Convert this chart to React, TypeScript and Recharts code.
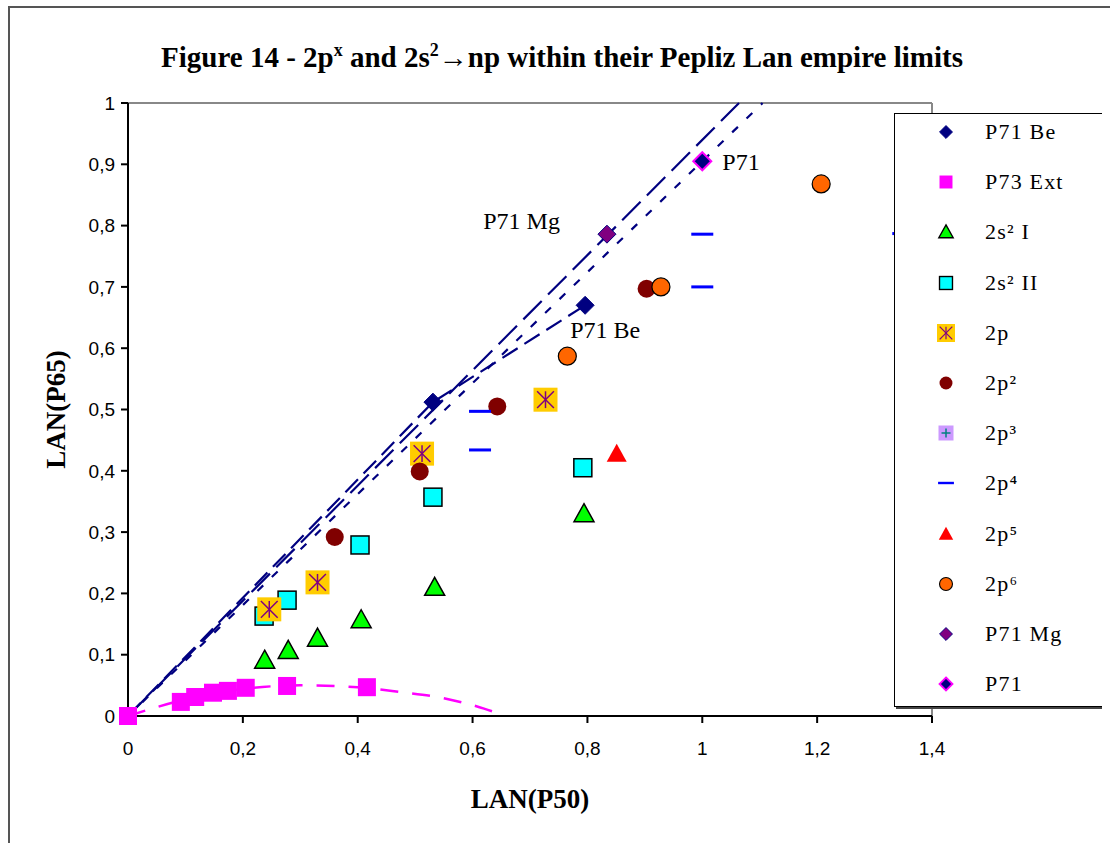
import React from 'react';
import { ScatterChart, Scatter, XAxis, YAxis, Legend, ReferenceLine } from 'recharts';

// axis ticks
const xTicks = [0, 0.2, 0.4, 0.6, 0.8, 1, 1.2, 1.4];
const yTicks = [0, 0.1, 0.2, 0.3, 0.4, 0.5, 0.6, 0.7, 0.8, 0.9, 1];

// series
const p71BeX = [0, 0.531, 0.796];
const p71BeY = [0, 0.512, 0.67];
const p71BeLabels = ['', '', 'P71 Be'];

const p73ExtX = [0, 0.092, 0.117, 0.148, 0.174, 0.205, 0.277, 0.416];
const p73ExtY = [0, 0.023, 0.031, 0.038, 0.041, 0.046, 0.049, 0.047];

const s2IX = [0.238, 0.279, 0.33, 0.406, 0.534, 0.794];
const s2IY = [0.091, 0.107, 0.127, 0.157, 0.21, 0.33];

const s2IIX = [0.237, 0.277, 0.404, 0.531, 0.792];
const s2IIY = [0.163, 0.189, 0.279, 0.357, 0.405];

const p1X = [0.246, 0.33, 0.512, 0.727];
const p1Y = [0.174, 0.218, 0.428, 0.516];

const p2X = [0.36, 0.508, 0.643, 0.903];
const p2Y = [0.292, 0.399, 0.505, 0.697];

const p3X: number[] = [];
const p3Y: number[] = [];

const p4X = [0.613, 0.613, 1.0, 1.0, 1.35];
const p4Y = [0.497, 0.434, 0.786, 0.7, 0.787];

const p5X = [0.851];
const p5Y = [0.428];

const p6X = [0.765, 0.928, 1.207];
const p6Y = [0.587, 0.7, 0.868];

const p71MgX = [0.834];
const p71MgY = [0.786];
const p71MgLabels = ['P71 Mg'];

const p71X = [1.0];
const p71Y = [0.905];
const p71Labels = ['P71'];

// dashed guide lines
const limitAX = [0, 1.064];
const limitAY = [0, 1.0];
const limitBX = [0, 1.105];
const limitBY = [0, 1.0];
const extCurveX = [0, 0.1, 0.2, 0.3, 0.4, 0.475, 0.55, 0.62, 0.645];
const extCurveY = [0, 0.027, 0.044, 0.05, 0.047, 0.039, 0.029, 0.012, 0.004];

const legendOrder = ['P71 Be', 'P73 Ext', '2s² I', '2s² II', '2p', '2p²', '2p³', '2p⁴', '2p⁵', '2p⁶', 'P71 Mg', 'P71'];

const toPoints = (xs: number[], ys: number[], labels?: string[]) =>
  xs.map((x, i) => ({ x, y: ys[i], label: labels ? labels[i] : '' }));

const NAVY = '#000080';

type MarkKind = 'diamond' | 'square' | 'triangle' | 'starSquare' | 'circle' | 'plusSquare' | 'dash' | 'none';
interface MarkStyle {
  kind: MarkKind;
  size: number;
  fill: string;
  stroke?: string;
  strokeWidth?: number;
  inner?: string;
}

const marks: Record<string, MarkStyle> = {
  'P71 Be': { kind: 'diamond', size: 9, fill: NAVY, stroke: NAVY, strokeWidth: 1 },
  'P73 Ext': { kind: 'square', size: 9, fill: '#FF00FF' },
  '2s² I': { kind: 'triangle', size: 10, fill: '#00FF00', stroke: '#000', strokeWidth: 1.5 },
  '2s² II': { kind: 'square', size: 9, fill: '#00FFFF', stroke: '#000', strokeWidth: 1.5 },
  '2p': { kind: 'starSquare', size: 12, fill: '#FFCC00', inner: '#800080' },
  '2p²': { kind: 'circle', size: 9, fill: '#800000' },
  '2p³': { kind: 'plusSquare', size: 10, fill: '#CC99FF', inner: '#008080' },
  '2p⁴': { kind: 'dash', size: 11, fill: '#0000FF' },
  '2p⁵': { kind: 'triangle', size: 10, fill: '#FF0000' },
  '2p⁶': { kind: 'circle', size: 9, fill: '#FF6600', stroke: '#000', strokeWidth: 1.2 },
  'P71 Mg': { kind: 'diamond', size: 9, fill: '#800080', stroke: NAVY, strokeWidth: 1 },
  'P71': { kind: 'diamond', size: 9, fill: NAVY, stroke: '#FF00FF', strokeWidth: 2 },
};

const labelPlacement: Record<string, { dx: number; dy: number; anchor: 'start' | 'end' }> = {
  'P71 Be': { dx: -15, dy: 25, anchor: 'start' },
  'P71 Mg': { dx: -47, dy: -13, anchor: 'end' },
  'P71': { dx: 20, dy: 1, anchor: 'start' },
};

function drawMark(s: MarkStyle, cx: number, cy: number, scale = 1) {
  const r = s.size * scale;
  const sw = (s.strokeWidth ?? 0) * Math.min(1, scale + 0.2);
  const common = { fill: s.fill, stroke: s.stroke ?? 'none', strokeWidth: sw };
  switch (s.kind) {
    case 'diamond':
      return <polygon points={`${cx},${cy - r} ${cx + r},${cy} ${cx},${cy + r} ${cx - r},${cy}`} {...common} />;
    case 'square':
      return <rect x={cx - r} y={cy - r} width={2 * r} height={2 * r} {...common} />;
    case 'triangle':
      return <polygon points={`${cx},${cy - r} ${cx + r},${cy + r * 0.8} ${cx - r},${cy + r * 0.8}`} {...common} />;
    case 'circle':
      return <circle cx={cx} cy={cy} r={r} {...common} />;
    case 'dash':
      return <rect x={cx - r} y={cy - 1.5 * Math.max(scale, 0.8)} width={2 * r} height={3 * Math.max(scale, 0.8)} fill={s.fill} />;
    case 'starSquare': {
      const a = r * 0.7;
      return (
        <g>
          <rect x={cx - r} y={cy - r} width={2 * r} height={2 * r} fill={s.fill} />
          <g stroke={s.inner} strokeWidth={1.5 * Math.max(scale, 0.8)}>
            <line x1={cx} y1={cy - a} x2={cx} y2={cy + a} />
            <line x1={cx - a} y1={cy - a} x2={cx + a} y2={cy + a} />
            <line x1={cx - a} y1={cy + a} x2={cx + a} y2={cy - a} />
          </g>
        </g>
      );
    }
    case 'plusSquare': {
      const a = r * 0.6;
      return (
        <g>
          <rect x={cx - r} y={cy - r} width={2 * r} height={2 * r} fill={s.fill} />
          <g stroke={s.inner} strokeWidth={1.5}>
            <line x1={cx} y1={cy - a} x2={cx} y2={cy + a} />
            <line x1={cx - a} y1={cy} x2={cx + a} y2={cy} />
          </g>
        </g>
      );
    }
    default:
      return <g />;
  }
}

const makeShape = (name: string) => (p: any) => {
  const s = marks[name];
  const label: string = p.payload && p.payload.label;
  const place = label ? labelPlacement[label] : undefined;
  return (
    <g>
      {drawMark(s, p.cx, p.cy)}
      {place && (
        <text
          x={p.cx + place.dx}
          y={p.cy + place.dy}
          textAnchor={place.anchor}
          dominantBaseline="central"
          fontFamily="'Liberation Serif', serif"
          fontSize={24}
          fill="#000"
        >
          {label}
        </text>
      )}
    </g>
  );
};

const emptyShape = () => <g />;

const fmt = (v: number) => String(v).replace('.', ',');

function LegendBox(props: any) {
  const payload: any[] = props.payload || [];
  const names = legendOrder.filter((n) => payload.some((e) => e.value === n));
  return (
    <div
      style={{
        width: 230,
        height: 594,
        boxSizing: 'border-box',
        border: '1.5px solid #000',
        boxShadow: '2px 2px 0 #444',
        background: '#fff',
        overflow: 'hidden',
      }}
    >
      <div style={{ marginTop: -7 }}>
        {names.map((name) => {
          const s = marks[name];
          return (
            <div key={name} style={{ height: 50.2, display: 'flex', alignItems: 'center' }}>
              <svg width={30} height={24} style={{ marginLeft: 36 }}>
                {s && drawMark(s, 15, 12, s.kind === 'starSquare' || s.kind === 'plusSquare' ? 0.75 : 0.72)}
              </svg>
              <span
                style={{
                  marginLeft: 24,
                  fontFamily: "'Liberation Serif', serif",
                  fontSize: 22,
                  letterSpacing: 1.2,
                  color: '#000',
                }}
              >
                {name}
              </span>
            </div>
          );
        })}
      </div>
    </div>
  );
}

const sup = { fontSize: '0.62em', position: 'relative' as const, top: '-0.6em' };

export default function App() {
  const line = (stroke: string, dash: string, width = 2) => ({ stroke, strokeDasharray: dash, strokeWidth: width, fill: 'none' });

  return (
    <div style={{ position: 'relative', width: 1102, height: 827 }}>
      <div
        style={{
          position: 'fixed',
          left: 8,
          top: 6,
          width: 1102,
          height: 837,
          boxSizing: 'border-box',
          borderLeft: '2px solid #555',
          borderTop: '2px solid #555',
          pointerEvents: 'none',
          zIndex: 3,
        }}
      />
      <div style={{ position: 'relative', width: 1102, height: 827, overflow: 'hidden', background: '#fff' }}>
        <div
          style={{
            position: 'absolute',
            left: 0,
            top: 34,
            width: 1108,
            textAlign: 'center',
            fontFamily: "'Liberation Serif', serif",
            fontWeight: 'bold',
            fontSize: 29,
            lineHeight: '30px',
            color: '#000',
            zIndex: 2,
          }}
        >
          Figure 14 - 2p<span style={sup}>x</span> and 2s<span style={sup}>2</span>→np within their Pepliz Lan empire limits
        </div>
        <ScatterChart width={1102} height={827} margin={{ top: 95, right: 178, bottom: 59, left: 0 }}>
          <XAxis
            type="number"
            dataKey="x"
            domain={[0, 1.4]}
            ticks={xTicks}
            tickFormatter={fmt}
            height={60}
            tickSize={7}
            tickMargin={19}
            axisLine={{ stroke: '#000', strokeWidth: 2 }}
            tickLine={{ stroke: '#000', strokeWidth: 2 }}
            tick={{ fill: '#000', fontSize: 19, fontFamily: "'Liberation Sans', sans-serif" }}
            label={{
              value: 'LAN(P50)',
              position: 'insideBottom',
              offset: -32,
              style: { fontFamily: "'Liberation Serif', serif", fontWeight: 'bold', fontSize: 27, fill: '#000' },
            }}
          />
          <YAxis
            type="number"
            dataKey="y"
            domain={[0, 1]}
            ticks={yTicks}
            tickFormatter={fmt}
            width={120}
            tickSize={7}
            tickMargin={6}
            axisLine={{ stroke: '#000', strokeWidth: 2 }}
            tickLine={{ stroke: '#000', strokeWidth: 2 }}
            tick={{ fill: '#000', fontSize: 19, fontFamily: "'Liberation Sans', sans-serif" }}
            label={{
              value: 'LAN(P65)',
              angle: -90,
              position: 'insideLeft',
              offset: 47,
              style: { textAnchor: 'middle', fontFamily: "'Liberation Serif', serif", fontWeight: 'bold', fontSize: 27, fill: '#000' },
            }}
          />
          <ReferenceLine y={1} stroke="#888" strokeWidth={2} />
          <ReferenceLine x={1.4} stroke="#888" strokeWidth={2} />

          <Scatter name="limit A" data={toPoints(limitAX, limitAY)} legendType="none" shape={emptyShape}
            line={line(NAVY, '26 9', 2.2)} isAnimationActive={false} />
          <Scatter name="limit B" data={toPoints(limitBX, limitBY)} legendType="none" shape={emptyShape}
            line={line(NAVY, '8 12', 2.2)} isAnimationActive={false} />
          <Scatter name="ext curve" data={toPoints(extCurveX, extCurveY)} legendType="none" shape={emptyShape}
            line={line('#FF00FF', '18 14', 2.5)} lineJointType="monotoneX" isAnimationActive={false} />

          <Scatter name="P71 Be" data={toPoints(p71BeX, p71BeY, p71BeLabels)} fill={NAVY} shape={makeShape('P71 Be')}
            line={line(NAVY, '18 8', 2.2)} isAnimationActive={false} />
          <Scatter name="P73 Ext" data={toPoints(p73ExtX, p73ExtY)} fill="#FF00FF" shape={makeShape('P73 Ext')} isAnimationActive={false} />
          <Scatter name="2s² I" data={toPoints(s2IX, s2IY)} fill="#00FF00" shape={makeShape('2s² I')} isAnimationActive={false} />
          <Scatter name="2s² II" data={toPoints(s2IIX, s2IIY)} fill="#00FFFF" shape={makeShape('2s² II')} isAnimationActive={false} />
          <Scatter name="2p" data={toPoints(p1X, p1Y)} fill="#FFCC00" shape={makeShape('2p')} isAnimationActive={false} />
          <Scatter name="2p²" data={toPoints(p2X, p2Y)} fill="#800000" shape={makeShape('2p²')} isAnimationActive={false} />
          <Scatter name="2p³" data={toPoints(p3X, p3Y)} fill="#CC99FF" shape={makeShape('2p³')} isAnimationActive={false} />
          <Scatter name="2p⁴" data={toPoints(p4X, p4Y)} fill="#0000FF" shape={makeShape('2p⁴')} isAnimationActive={false} />
          <Scatter name="2p⁵" data={toPoints(p5X, p5Y)} fill="#FF0000" shape={makeShape('2p⁵')} isAnimationActive={false} />
          <Scatter name="2p⁶" data={toPoints(p6X, p6Y)} fill="#FF6600" shape={makeShape('2p⁶')} isAnimationActive={false} />
          <Scatter name="P71 Mg" data={toPoints(p71MgX, p71MgY, p71MgLabels)} fill="#800080" shape={makeShape('P71 Mg')} isAnimationActive={false} />
          <Scatter name="P71" data={toPoints(p71X, p71Y, p71Labels)} fill={NAVY} shape={makeShape('P71')} isAnimationActive={false} />

          <Legend
            layout="vertical"
            align="center"
            verticalAlign="middle"
            content={<LegendBox />}
            wrapperStyle={{ left: 886, top: 105, width: 230, height: 594 }}
          />
        </ScatterChart>
      </div>
    </div>
  );
}
